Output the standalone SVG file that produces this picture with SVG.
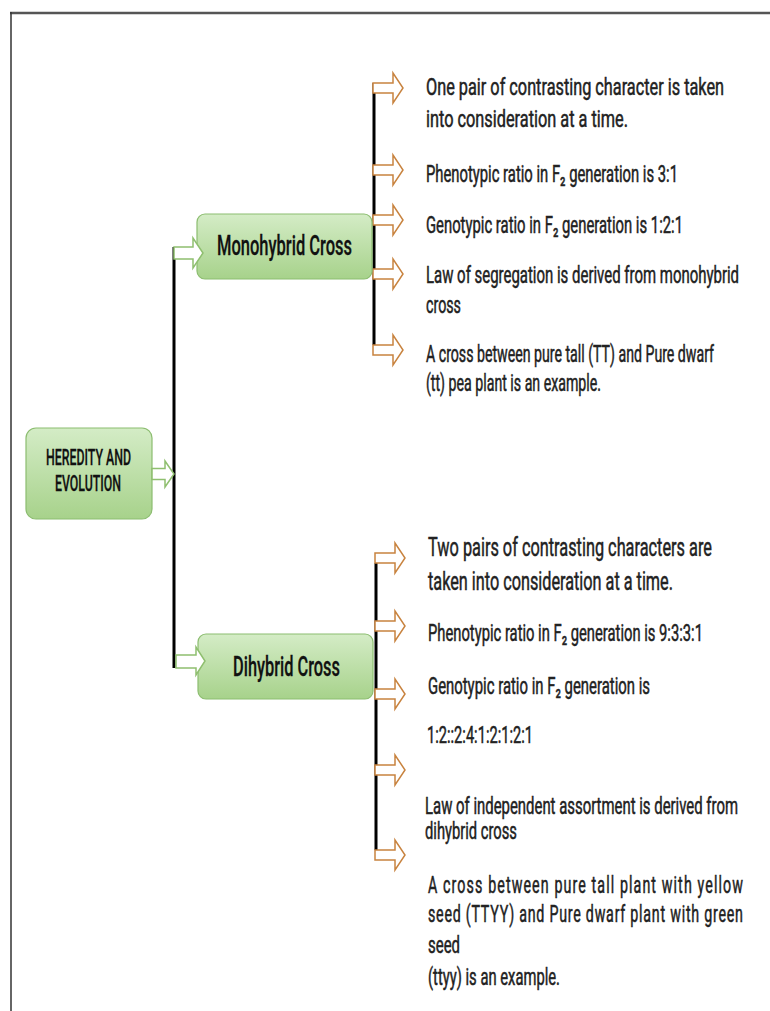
<svg xmlns="http://www.w3.org/2000/svg" width="770" height="1011" viewBox="0 0 770 1011">
<defs>
<linearGradient id="g" x1="0" y1="0" x2="0" y2="1">
<stop offset="0" stop-color="#d4ecc6"/>
<stop offset="1" stop-color="#a7d28b"/>
</linearGradient>
<path id="oa" class="oa" d="M0,-5 H20 V-15 L30,0 L20,15 V5 H0 Z"/>
</defs>
<style>
.box{fill:url(#g);stroke:#8cbd70;stroke-width:1.2}
.bt{font-family:Roboto,"Liberation Sans",sans-serif;fill:#111;font-weight:500;stroke:#111;stroke-width:0.3}
.t{font-family:Roboto,"Liberation Sans",sans-serif;fill:#222;font-size:23px;stroke:#222;stroke-width:0.5}
.big{font-size:26px}
.oa{fill:#fff;stroke:#c8833f;stroke-width:1.5}
.ga{fill:#fff;stroke:#8fbf6f;stroke-width:1.5}
.ln{stroke:#000;stroke-width:3;fill:none}
</style>
<rect width="770" height="1011" fill="#fff"/>
<g id="frame">
<line x1="10" y1="13" x2="770" y2="13" stroke="#555" stroke-width="2.5"/>
<line x1="11" y1="12" x2="11" y2="1011" stroke="#333" stroke-width="1.5"/>
</g>
<g id="connectors">
<line class="ln" x1="174" y1="247" x2="174" y2="668"/>
<line class="ln" x1="374" y1="83" x2="374" y2="345"/>
<line class="ln" x1="376" y1="563" x2="376" y2="850"/>
<use href="#oa" x="373" y="88"/>
<use href="#oa" x="373" y="170"/>
<use href="#oa" x="373" y="220"/>
<use href="#oa" x="373" y="274"/>
<use href="#oa" x="373" y="350"/>
<use href="#oa" x="375" y="558"/>
<use href="#oa" x="375" y="626"/>
<use href="#oa" x="375" y="694"/>
<use href="#oa" x="375" y="770"/>
<use href="#oa" x="375" y="855"/>
</g>
<g id="heredity">
<rect class="box" x="26" y="428" width="126" height="91" rx="10"/>
<text class="bt" font-size="22" transform="matrix(0.6 0 0 1 46 465)" textLength="141.7" lengthAdjust="spacingAndGlyphs">HEREDITY AND</text>
<text class="bt" font-size="22" transform="matrix(0.6 0 0 1 55 491)" textLength="110" lengthAdjust="spacingAndGlyphs">EVOLUTION</text>
<path class="ga" d="M152,468.5 H165 V461 L174,474 L165,487 V479.5 H152 Z"/>
</g>
<g id="monohybrid">
<rect class="box" x="197" y="214" width="175" height="65" rx="8"/>
<text class="bt" font-size="28" transform="matrix(0.6 0 0 1 217 255)" textLength="225" lengthAdjust="spacingAndGlyphs">Monohybrid Cross</text>
<path class="ga" d="M174,247 H193 V238 L203,253 L193,268 V259 H174 Z"/>
</g>
<g id="dihybrid">
<rect class="box" x="198" y="634" width="175" height="65" rx="8"/>
<text class="bt" font-size="28" transform="matrix(0.6 0 0 1 233 676)" textLength="178.3" lengthAdjust="spacingAndGlyphs">Dihybrid Cross</text>
<path class="ga" d="M176,655 H196 V647 L205,661 L196,675 V668 H176 Z"/>
</g>
<g id="mono-points">
<text class="t" font-size="27" transform="matrix(0.6 0 0 1 426 95)" textLength="496.7" lengthAdjust="spacingAndGlyphs">One pair of contrasting character is taken</text>
<text class="t" font-size="27" transform="matrix(0.6 0 0 1 426 127)" textLength="336.7" lengthAdjust="spacingAndGlyphs">into consideration at a time.</text>
<text class="t" transform="matrix(0.6 0 0 1 426 182)" textLength="420" lengthAdjust="spacingAndGlyphs">Phenotypic ratio in F₂ generation is 3:1</text>
<text class="t" transform="matrix(0.6 0 0 1 426 233)" textLength="428.3" lengthAdjust="spacingAndGlyphs">Genotypic ratio in F₂ generation is 1:2:1</text>
<text class="t" transform="matrix(0.6 0 0 1 426 283)" textLength="521.7" lengthAdjust="spacingAndGlyphs">Law of segregation is derived from monohybrid</text>
<text class="t" transform="matrix(0.6 0 0 1 426 313)" textLength="58.3" lengthAdjust="spacingAndGlyphs">cross</text>
<text class="t" transform="matrix(0.6 0 0 1 426 362)" textLength="480" lengthAdjust="spacingAndGlyphs">A cross between pure tall (TT) and Pure dwarf</text>
<text class="t" transform="matrix(0.6 0 0 1 426 391)" textLength="291.7" lengthAdjust="spacingAndGlyphs">(tt) pea plant is an example.</text>
</g>
<g id="di-points">
<text class="t big" transform="matrix(0.6 0 0 1 428 556)" textLength="473.3" lengthAdjust="spacingAndGlyphs">Two pairs of contrasting characters are</text>
<text class="t big" transform="matrix(0.6 0 0 1 428 590)" textLength="408.3" lengthAdjust="spacingAndGlyphs">taken into consideration at a time.</text>
<text class="t" transform="matrix(0.6 0 0 1 428 641)" textLength="458.3" lengthAdjust="spacingAndGlyphs">Phenotypic ratio in F₂ generation is 9:3:3:1</text>
<text class="t" transform="matrix(0.6 0 0 1 428 694)" textLength="370" lengthAdjust="spacingAndGlyphs">Genotypic ratio in F₂ generation is</text>
<text class="t" transform="matrix(0.6 0 0 1 427 743)" textLength="176.7" lengthAdjust="spacingAndGlyphs">1:2::2:4:1:2:1:2:1</text>
<text class="t" transform="matrix(0.6 0 0 1 425 814)" textLength="521.7" lengthAdjust="spacingAndGlyphs">Law of independent assortment is derived from</text>
<text class="t" transform="matrix(0.6 0 0 1 425 839)" textLength="153.3" lengthAdjust="spacingAndGlyphs">dihybrid cross</text>
<text class="t" font-size="24" transform="matrix(0.62 0 0 1 428 893)" textLength="508" lengthAdjust="spacing">A cross between pure tall plant with yellow</text>
<text class="t" font-size="24" transform="matrix(0.62 0 0 1 428 922)" textLength="508" lengthAdjust="spacing">seed (TTYY) and Pure dwarf plant with green</text>
<text class="t" font-size="24" transform="matrix(0.6 0 0 1 428 953)" textLength="53.3" lengthAdjust="spacingAndGlyphs">seed</text>
<text class="t" font-size="24" transform="matrix(0.6 0 0 1 428 985)" textLength="220" lengthAdjust="spacingAndGlyphs">(ttyy) is an example.</text>
</g>
</svg>
